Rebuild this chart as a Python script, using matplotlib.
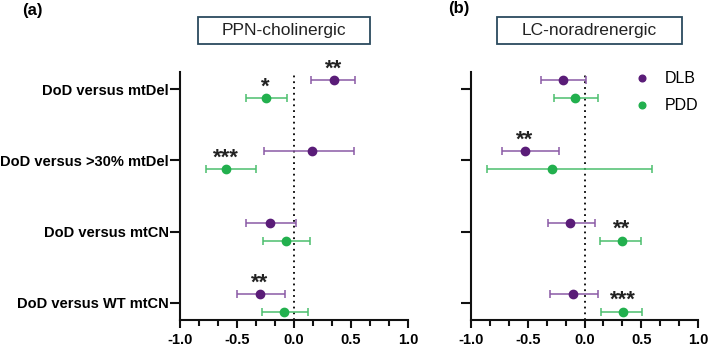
import matplotlib
matplotlib.use("Agg")
import matplotlib.pyplot as plt
from matplotlib.ticker import MultipleLocator
import numpy as np

plt.rcParams["font.family"] = ["Liberation Sans", "DejaVu Sans"]

comparisons = ["DoD versus mtDel", "DoD versus >30% mtDel", "DoD versus mtCN", "DoD versus WT mtCN"]

# panel (a) PPN-cholinergic: mean, lower, upper
ppn_dlb = [0.35, 0.16, -0.21, -0.30]
ppn_dlb_lo = [0.15, -0.26, -0.42, -0.50]
ppn_dlb_hi = [0.535, 0.53, 0.02, -0.075]
ppn_pdd = [-0.25, -0.60, -0.07, -0.085]
ppn_pdd_lo = [-0.425, -0.775, -0.27, -0.285]
ppn_pdd_hi = [-0.06, -0.33, 0.14, 0.125]
ppn_dlb_stars = ["**", "", "", "**"]
ppn_pdd_stars = ["*", "***", "", ""]

# panel (b) LC-noradrenergic
lc_dlb = [-0.19, -0.525, -0.13, -0.10]
lc_dlb_lo = [-0.38, -0.73, -0.325, -0.305]
lc_dlb_hi = [0.01, -0.225, 0.09, 0.115]
lc_pdd = [-0.08, -0.29, 0.33, 0.34]
lc_pdd_lo = [-0.265, -0.855, 0.137, 0.146]
lc_pdd_hi = [0.115, 0.595, 0.50, 0.505]
lc_dlb_stars = ["", "**", "", ""]
lc_pdd_stars = ["", "", "**", "***"]

DLB_DOT = "#5a1c78"
DLB_BAR = "#8a5aa6"
PDD_DOT = "#22b04e"
PDD_BAR = "#4cbf6e"
BOX_EDGE = "#2b4a5e"

fig = plt.figure(figsize=(7.09, 3.46), dpi=100)
W, H = 709, 346


def px_axes(x0, x1, y0, y1):
    return fig.add_axes([x0 / W, 1 - y1 / H, (x1 - x0) / W, (y1 - y0) / H])


ax_a = px_axes(180, 408, 72, 320)
ax_b = px_axes(471, 698, 72, 320)

y = np.arange(len(comparisons))
off = 0.125


def draw(ax, dlb, dlo, dhi, dstars, pdd, plo, phi, pstars):
    for vals, lo, hi, stars, dy, dot, bar, lab in (
        (dlb, dlo, dhi, dstars, -off, DLB_DOT, DLB_BAR, "DLB"),
        (pdd, plo, phi, pstars, off, PDD_DOT, PDD_BAR, "PDD"),
    ):
        vals = np.array(vals)
        err = np.array([vals - np.array(lo), np.array(hi) - vals])
        ax.errorbar(vals, y + dy, xerr=err, fmt="none", ecolor=bar,
                    elinewidth=1.1, capsize=3.2, capthick=1.1, zorder=2)
        ax.plot(vals, y + dy, "o", color=dot, markersize=6, zorder=3,
                linestyle="none", label=lab)
        for v, yy, s in zip(vals, y + dy, stars):
            if s:
                ax.annotate(s, (v, yy), xytext=(0, 0.5), textcoords="offset points",
                            ha="center", va="bottom", fontsize=16,
                            fontweight="bold", color="#222222")
    ax.axvline(0, color="black", linestyle=(0, (1, 2.2)), linewidth=1.3, zorder=1)
    ax.set_xlim(-1.0, 1.0)
    ax.set_ylim(3.24, -0.24)
    ax.set_yticks(y)
    ax.xaxis.set_major_locator(MultipleLocator(0.5))
    ax.xaxis.set_minor_locator(MultipleLocator(1 / 6))
    for side in ("top", "right"):
        ax.spines[side].set_visible(False)
    for side in ("left", "bottom"):
        ax.spines[side].set_linewidth(1.5)
        ax.spines[side].set_color("#111111")
    ax.tick_params(axis="both", which="major", width=1.5, length=6, color="#111111")
    ax.tick_params(axis="x", which="minor", width=1.5, length=4, color="#111111")
    ax.tick_params(axis="y", which="major", length=7, pad=1)
    ax.tick_params(axis="x", which="major", pad=3)
    ax.set_xticklabels([f"{v:.1f}" for v in ax.get_xticks()], fontweight="bold", fontsize=10.5)


draw(ax_a, ppn_dlb, ppn_dlb_lo, ppn_dlb_hi, ppn_dlb_stars,
     ppn_pdd, ppn_pdd_lo, ppn_pdd_hi, ppn_pdd_stars)
draw(ax_b, lc_dlb, lc_dlb_lo, lc_dlb_hi, lc_dlb_stars,
     lc_pdd, lc_pdd_lo, lc_pdd_hi, lc_pdd_stars)

ax_a.set_yticklabels(comparisons, fontweight="bold", fontsize=10.5)
ax_b.set_yticklabels([])

ax_b.legend(loc="upper left", bbox_to_anchor=(0.655, 1.06), frameon=False,
            fontsize=11.5, handletextpad=0.9, labelspacing=0.75, markerscale=0.8,
            handlelength=1.0)

# panel titles in boxes
for cx, text in ((284, "PPN-cholinergic"), (589.5, "LC-noradrenergic")):
    fig.text(cx / W, 1 - 30.5 / H, text, ha="center", va="center", fontsize=12.5,
             color="#222222")
box_specs = ((198, 370), (497, 682))
for x0, x1 in box_specs:
    rect = plt.Rectangle((x0 / W, 1 - 44 / H), (x1 - x0) / W, 27 / H,
                         transform=fig.transFigure, fill=False,
                         edgecolor=BOX_EDGE, linewidth=1.3)
    fig.add_artist(rect)

fig.text(22 / W, 1 - 10 / H, "(a)", ha="left", va="center", fontsize=12, fontweight="bold")
fig.text(448 / W, 1 - 9 / H, "(b)", ha="left", va="center", fontsize=12, fontweight="bold")

fig.savefig("out.png", dpi=100)
